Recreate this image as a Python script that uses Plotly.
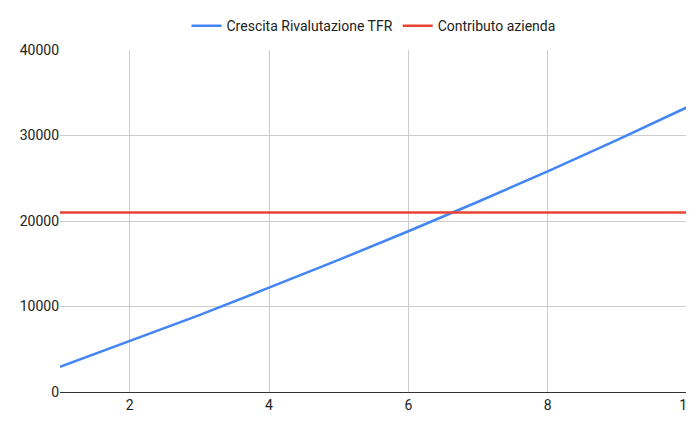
import plotly.graph_objects as go

years = [1, 2, 3, 4, 5, 6, 7, 8, 9, 10]
tfr = [2950, 5950, 9000, 12200, 15450, 18800, 22250, 25800, 29500, 33300]
contributo = [21000] * 10

fig = go.Figure()
fig.add_trace(go.Scatter(x=years, y=tfr, mode="lines", name="Crescita Rivalutazione TFR",
                         line=dict(color="#4285F4", width=2.5)))
fig.add_trace(go.Scatter(x=years, y=contributo, mode="lines", name="Contributo azienda",
                         line=dict(color="#EA4335", width=2.5)))
fig.update_layout(
    width=694, height=427, plot_bgcolor="white", paper_bgcolor="white",
    margin=dict(l=52, r=15, t=42, b=43, autoexpand=False),
    font=dict(family="Roboto, Arial", size=14, color="#222"),
    legend=dict(orientation="h", x=0.5, xanchor="center", y=0.995, yanchor="top",
                yref="container", font=dict(size=14)),
    xaxis=dict(range=[1, 10], tickvals=[2, 4, 6, 8, 10], showgrid=True, gridcolor="#cccccc",
               showline=True, linecolor="#333", linewidth=1, zeroline=False, automargin=False),
    yaxis=dict(range=[0, 40000], tickvals=[0, 10000, 20000, 30000, 40000], showgrid=True,
               gridcolor="#cccccc", zeroline=False, tickformat="d", automargin=False),
)
fig.write_html("out.html")
